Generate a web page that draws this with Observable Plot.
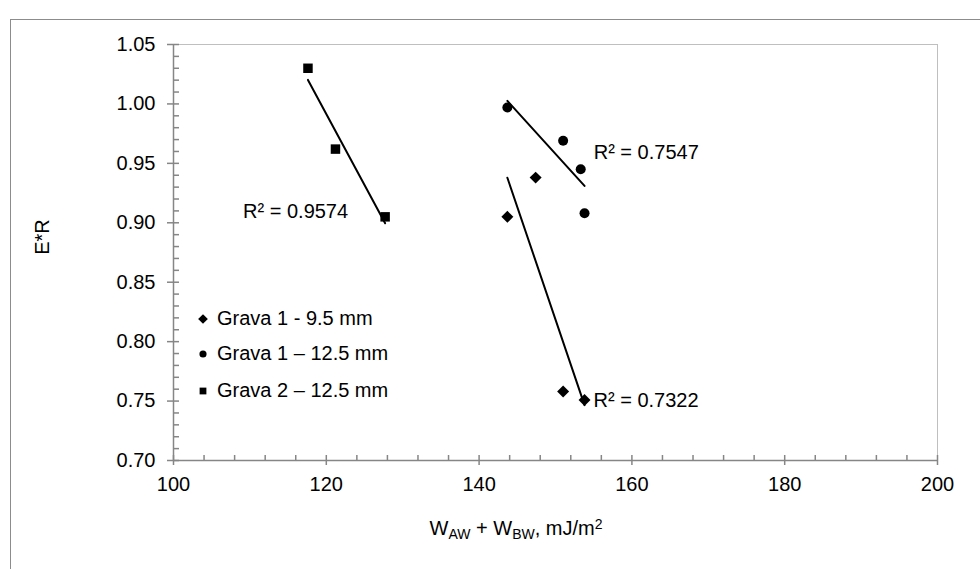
<!DOCTYPE html>
<html><head><meta charset="utf-8">
<script src="https://cdn.jsdelivr.net/npm/d3@7"></script>
<script src="https://cdn.jsdelivr.net/npm/@observablehq/plot@0.6"></script>
<style>
body{margin:0;background:#fff;}
#wrap{position:relative;width:980px;height:569px;overflow:hidden;font-family:"Liberation Sans",Arial,sans-serif;color:#000;background:#fff;}
#border{position:absolute;left:10px;top:19px;width:1100px;height:700px;border:1px solid #8c8c8c;box-sizing:border-box;}
#chart{position:absolute;left:0;top:0;}
#xtitle{position:absolute;left:366px;width:300px;top:518px;text-align:center;font-size:20px;line-height:20px;white-space:nowrap;}
#xtitle sub{font-size:14px;vertical-align:-4px;line-height:0;}
#xtitle sup{font-size:14px;vertical-align:6px;line-height:0;}
#ytitle{position:absolute;left:42px;top:237px;transform:translate(-50%,-50%) rotate(-90deg);font-size:20px;line-height:20px;white-space:nowrap;}
#legend{position:absolute;left:196px;top:305px;font-size:20px;line-height:20px;}
#legend .row{position:absolute;left:0;white-space:nowrap;height:20px;}
#legend svg{position:absolute;left:0;top:3px;}
#legend span{position:absolute;left:21px;top:0;}
</style>
</head><body>
<div id="wrap">
  <div id="border"></div>
  <div id="chart"></div>
  <div id="ytitle">E*R</div>
  <div id="xtitle">W<sub>AW</sub> + W<sub>BW</sub>, mJ/m<sup>2</sup></div>
  <div id="legend"></div>
</div>
<script>
// ---- data ----
const seriesNames = ["Grava 1 - 9.5 mm", "Grava 1 \u2013 12.5 mm", "Grava 2 \u2013 12.5 mm"];
const g1_95_x = [143.7, 147.4, 151.0, 153.8];
const g1_95_y = [0.905, 0.938, 0.758, 0.751];
const g1_125_x = [143.7, 151.0, 153.3, 153.8];
const g1_125_y = [0.997, 0.969, 0.945, 0.908];
const g2_125_x = [117.6, 121.2, 127.7];
const g2_125_y = [1.030, 0.962, 0.905];
const r2Labels = ["R\u00b2 = 0.7322", "R\u00b2 = 0.7547", "R\u00b2 = 0.9574"];
const xTicks = [100, 120, 140, 160, 180, 200];
const yTicks = [0.70, 0.75, 0.80, 0.85, 0.90, 0.95, 1.00, 1.05];
const xMinorStep = 4;
const yMinorStep = 0.01;

// ---- build tables ----
const rows = (xs, ys, s) => xs.map((x, i) => ({x, y: ys[i], series: s}));
const dia = rows(g1_95_x, g1_95_y, seriesNames[0]);
const cir = rows(g1_125_x, g1_125_y, seriesNames[1]);
const sqr = rows(g2_125_x, g2_125_y, seriesNames[2]);
const all = [...dia, ...cir, ...sqr];

const [x0, x1] = [xTicks[0], xTicks[xTicks.length - 1]];
const [y0, y1] = [yTicks[0], yTicks[yTicks.length - 1]];
const xMinor = d3.range(Math.round((x1 - x0) / xMinorStep) + 1).map(i => x0 + i * xMinorStep).filter(v => !xTicks.includes(v));
const yMinor = d3.range(Math.round((y1 - y0) / yMinorStep) + 1).map(i => +(y0 + i * yMinorStep).toFixed(2)).filter(v => !yTicks.some(t => Math.abs(t - v) < 1e-9));

const axisColor = "#868686";
const font = "'Liberation Sans', Arial, sans-serif";

// label anchors: last point of diamond, third circle, last square
const lblD = [{...dia[dia.length - 1], text: r2Labels[0]}];
const lblC = [{...cir[2], text: r2Labels[1]}];
const lblS = [{...sqr[sqr.length - 1], text: r2Labels[2]}];

const chart = Plot.plot({
  width: 980,
  height: 569,
  marginLeft: 173,
  marginRight: 43,
  marginTop: 44,
  marginBottom: 109,
  x: {domain: [x0, x1]},
  y: {domain: [y0, y1]},
  style: {fontFamily: font, fontSize: "20px", color: "#000", background: "transparent", overflow: "visible"},
  marks: [
    Plot.frame({stroke: "#bfbfbf", strokeWidth: 1}),
    // axis lines
    Plot.ruleY([y0], {stroke: axisColor, strokeWidth: 1.5}),
    Plot.ruleX([x0], {stroke: axisColor, strokeWidth: 1.5}),
    // x ticks
    Plot.ruleX(xTicks, {x: d => d, y1: y0, y2: y0, insetTop: -5, insetBottom: -5, stroke: axisColor, strokeWidth: 1.5}),
    Plot.ruleX(xMinor, {x: d => d, y1: y0, y2: y0, insetTop: -5, insetBottom: 0, stroke: axisColor, strokeWidth: 1.5}),
    // y ticks
    Plot.ruleY(yTicks, {y: d => d, x1: x0, x2: x0, insetLeft: -6, insetRight: -6, stroke: axisColor, strokeWidth: 1.5}),
    Plot.ruleY(yMinor, {y: d => d, x1: x0, x2: x0, insetLeft: 0, insetRight: -6, stroke: axisColor, strokeWidth: 1.5}),
    Plot.axisX({ticks: xTicks, tickSize: 0, tickPadding: 16, label: null, fontSize: 20}),
    Plot.axisY({ticks: yTicks, tickFormat: ".2f", tickSize: 0, tickPadding: 18, label: null, fontSize: 20}),
    // trend lines
    Plot.linearRegressionY(all, {x: "x", y: "y", z: "series", stroke: "black", strokeWidth: 2, ci: 0}),
    // points
    Plot.dot(dia, {x: "x", y: "y", symbol: "diamond2", r: 5.4, fill: "black", stroke: "none"}),
    Plot.dot(cir, {x: "x", y: "y", symbol: "circle", r: 5, fill: "black", stroke: "none"}),
    Plot.dot(sqr, {x: "x", y: "y", symbol: "square", r: 5.35, fill: "black", stroke: "none"}),
    // R² labels
    Plot.text(lblD, {x: "x", y: "y", text: "text", textAnchor: "start", dx: 9, dy: 1, fontSize: 20, fill: "black"}),
    Plot.text(lblC, {x: "x", y: "y", text: "text", textAnchor: "start", dx: 13, dy: -17, fontSize: 20, fill: "black"}),
    Plot.text(lblS, {x: "x", y: "y", text: "text", textAnchor: "end", dx: -37, dy: -5, fontSize: 20, fill: "black"})
  ]
});
document.getElementById("chart").appendChild(chart);

// legend
const legendSymbols = [d3.symbolDiamond2, d3.symbolCircle, d3.symbolSquare];
const legendSizes = [60, 40, 46];
const legendTops = [3, 38, 75];
const legend = d3.select("#legend");
seriesNames.forEach((name, i) => {
  const row = legend.append("div").attr("class", "row").style("top", legendTops[i] + "px");
  const svg = row.append("svg").attr("width", 16).attr("height", 16);
  svg.append("path").attr("transform", "translate(7,8)")
    .attr("d", d3.symbol(legendSymbols[i], legendSizes[i])()).attr("fill", "black");
  row.append("span").text(name);
});
</script>
</body></html>
